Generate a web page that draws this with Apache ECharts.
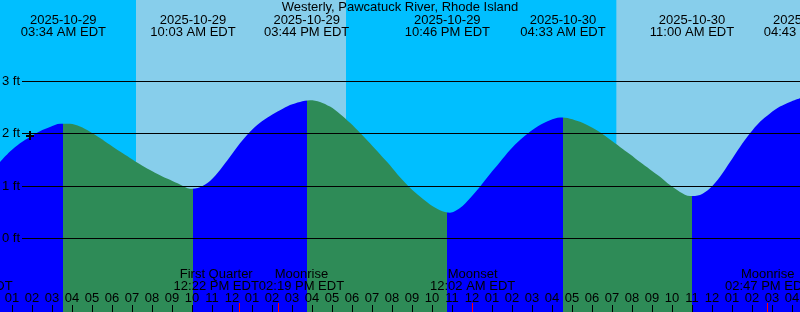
<!DOCTYPE html>
<html><head><meta charset="utf-8">
<script src="https://cdn.jsdelivr.net/npm/echarts@6/dist/echarts.min.js"></script>
<style>html,body{margin:0;padding:0;background:#00BFFF;overflow:hidden}#c{width:800px;height:312px}</style>
</head><body><div id="c"></div>
<script>
// ---- data (hours counted from 2025-10-29 00:00 EDT) ----
const chartTitle = 'Westerly, Pawcatuck River, Rhode Island';
// water level read every half hour
const curveHours = [0.4,0.9,1.4,1.9,2.4,2.9,3.4,3.9,4.4,4.9,
  5.4,5.9,6.4,6.9,7.4,7.9,8.4,8.9,9.4,9.9,
  10.4,10.9,11.4,11.9,12.4,12.9,13.4,13.9,14.4,14.9,
  15.4,15.9,16.4,16.9,17.4,17.9,18.4,18.9,19.4,19.9,
  20.4,20.9,21.4,21.9,22.4,22.9,23.4,23.9,24.4,24.9,
  25.4,25.9,26.4,26.9,27.4,27.9,28.4,28.9,29.4,29.9,
  30.4,30.9,31.4,31.9,32.4,32.9,33.4,33.9,34.4,34.9,
  35.4,35.9,36.4,36.9,37.4,37.9,38.4,38.9,39.4,39.9,40.4];
const curveFeet = [1.46,1.66,1.82,1.94,2.05,2.13,2.19,2.19,2.14,2.04,
  1.92,1.79,1.66,1.54,1.42,1.31,1.21,1.12,1.03,0.95,
  0.98,1.10,1.31,1.56,1.82,2.04,2.21,2.34,2.45,2.55,
  2.61,2.64,2.61,2.52,2.38,2.21,2.02,1.82,1.61,1.40,
  1.17,0.97,0.80,0.65,0.54,0.49,0.58,0.77,0.99,1.23,
  1.46,1.69,1.88,2.04,2.17,2.26,2.31,2.29,2.23,2.14,
  2.03,1.89,1.75,1.61,1.46,1.32,1.18,1.02,0.89,0.81,
  0.83,0.96,1.18,1.46,1.75,2.01,2.23,2.39,2.52,2.61,2.68];
const extremeHours = [3.567,10.05,15.733,22.767,28.55,35.0,40.717];
const extremeKinds = ['H','L','H','L','H','L','H'];
const extremeDates = ['2025-10-29','2025-10-29','2025-10-29','2025-10-29','2025-10-30','2025-10-30','2025-10-30'];
const extremeTimes = ['03:34 AM EDT','10:03 AM EDT','03:44 PM EDT','10:46 PM EDT','04:33 AM EDT','11:00 AM EDT','04:43 PM EDT'];
const moonHours = [-1.1,12.367,14.317,24.033,38.783];
const moonNames = ['Moonset','First Quarter','Moonrise','Moonset','Moonrise'];
const moonTimes = ['10:54 PM EDT','12:22 PM EDT','02:19 PM EDT','12:02 AM EDT','02:47 PM EDT'];
const dayStartHours = [7.2,31.217];
const dayEndHours = [17.7,41.67];
const levelFeet = [0,1,2,3];
const levelLabels = ['0 ft','1 ft','2 ft','3 ft'];
const nowHour = [1.9];
const nowFeet = [1.96];

// ---- styles ----
const FONT = '13px "Liberation Sans", Arial, sans-serif';
const NIGHT = '#00BFFF', DAY = '#87CEEB', FLOOD = '#0000FF', EBB = '#2E8B57';

const pieces = [];
pieces.push({lt: extremeHours[0], color: extremeKinds[0] === 'H' ? FLOOD : EBB});
for (let i = 0; i < extremeHours.length; i++) {
  const p = {gte: extremeHours[i], color: extremeKinds[i] === 'H' ? EBB : FLOOD};
  if (i + 1 < extremeHours.length) p.lt = extremeHours[i + 1];
  pieces.push(p);
}

const measureCtx = document.createElement('canvas').getContext('2d');
measureCtx.font = FONT;
function textW(s) { return measureCtx.measureText(s).width; }

function txt(x, y, s, align) {
  return {type: 'text', x: x, y: y, style: {text: s, font: FONT, fill: '#000', align: align || 'center', verticalAlign: 'middle'}};
}

const chart = echarts.init(document.getElementById('c'), null, {renderer: 'canvas'});
chart.setOption({
  animation: false,
  backgroundColor: NIGHT,
  grid: {left: -8, right: -12, top: 0, bottom: 0, containLabel: false, outerBoundsMode: 'none'},
  xAxis: {
    type: 'value', min: 0, max: 41, interval: 1, z: 10, position: 'bottom',
    axisLine: {show: false, onZero: false}, splitLine: {show: false},
    axisTick: {show: true, inside: true, length: 7, lineStyle: {color: '#000', width: 1}},
    axisLabel: {
      inside: true, margin: 14, verticalAlign: 'middle', color: '#000', fontSize: 13,
      fontFamily: '"Liberation Sans", Arial, sans-serif',
      formatter: function (v) {
        const h = ((Math.round(v) % 24) + 24) % 24;
        const h12 = h % 12 === 0 ? 12 : h % 12;
        return String(h12).padStart(2, '0');
      }
    }
  },
  yAxis: {type: 'value', min: -1.405, max: 4.557, show: false},
  visualMap: {type: 'piecewise', show: false, dimension: 0, seriesIndex: 1, pieces: pieces},
  graphic: [{type: 'text', x: 400, y: 7.8, z: 100, style: {text: chartTitle, font: FONT, fill: '#000', align: 'center', verticalAlign: 'middle'}}],
  series: [
    { // daylight bands
      type: 'custom', z: 1, clip: true,
      data: dayStartHours.map((s, i) => [s, dayEndHours[i]]),
      encode: {x: [0, 1]},
      renderItem: function (params, api) {
        const a = api.coord([api.value(0), 0]);
        const b = api.coord([api.value(1), 0]);
        return {type: 'rect', shape: {x: a[0], y: params.coordSys.y, width: b[0] - a[0], height: params.coordSys.height}, style: {fill: DAY}};
      }
    },
    { // tide curve
      type: 'line', z: 2, smooth: 0.3, symbol: 'none', showSymbol: false,
      data: curveHours.map((h, i) => [h, curveFeet[i]]),
      lineStyle: {width: 0},
      areaStyle: {opacity: 1, origin: 'start'}
    },
    { // level lines
      type: 'custom', z: 5, clip: false,
      data: levelFeet.map(v => [0, v]),
      encode: {x: 0, y: 1},
      renderItem: function (params, api) {
        const y = api.coord([0, api.value(1)])[1];
        const py = Math.round(y - 0.5) + 0.5;
        return {type: 'group', children: [
          {type: 'line', shape: {x1: 22, y1: py, x2: 800, y2: py}, style: {stroke: '#000', lineWidth: 1}},
          txt(2, y, levelLabels[params.dataIndex], 'left')
        ]};
      }
    },
    { // tide extreme labels
      type: 'custom', z: 6, clip: false,
      data: extremeHours.map(h => [h, 0]),
      encode: {x: 0, y: 1},
      renderItem: function (params, api) {
        const i = params.dataIndex;
        const x = api.coord([api.value(0), 0])[0];
        return {type: 'group', children: [txt(x, 20.1, extremeDates[i]), txt(x, 32.3, extremeTimes[i])]};
      }
    },
    { // moon events
      type: 'custom', z: 20, clip: false,
      data: moonHours.map(h => [h, 0]),
      encode: {x: 0, y: 1},
      renderItem: function (params, api) {
        const i = params.dataIndex;
        const xs = moonHours.map(h => api.coord([h, 0])[0]);
        const ws = moonNames.map((n, k) => Math.max(textW(n), textW(moonTimes[k])));
        const cx = xs.slice();
        for (let k = 1; k < cx.length; k++) {
          const need = (ws[k - 1] + ws[k]) / 2;
          const gap = cx[k] - cx[k - 1];
          if (gap < need) { const d = (need - gap) / 2; cx[k - 1] -= d; cx[k] += d; }
        }
        const bottom = params.coordSys.y + params.coordSys.height;
        const tx = Math.round(xs[i] - 0.5) + 0.5;
        return {type: 'group', children: [
          {type: 'line', shape: {x1: tx, y1: bottom - 9, x2: tx, y2: bottom}, style: {stroke: '#FF0000', lineWidth: 1}},
          txt(cx[i], 274.4, moonNames[i]),
          txt(cx[i], 286.8, moonTimes[i])
        ]};
      }
    },
    { // current time marker
      type: 'custom', z: 7, clip: false,
      data: nowHour.map((h, i) => [h, nowFeet[i]]),
      encode: {x: 0, y: 1},
      renderItem: function (params, api) {
        const c = api.coord([api.value(0), api.value(1)]);
        const cx = Math.round(c[0]), cy = Math.round(c[1]);
        return {type: 'group', children: [
          {type: 'line', shape: {x1: cx - 4, y1: cy, x2: cx + 4, y2: cy}, style: {stroke: '#000', lineWidth: 2}},
          {type: 'line', shape: {x1: cx, y1: cy - 5, x2: cx, y2: cy + 4}, style: {stroke: '#000', lineWidth: 2}}
        ]};
      }
    }
  ]
});
</script></body></html>
